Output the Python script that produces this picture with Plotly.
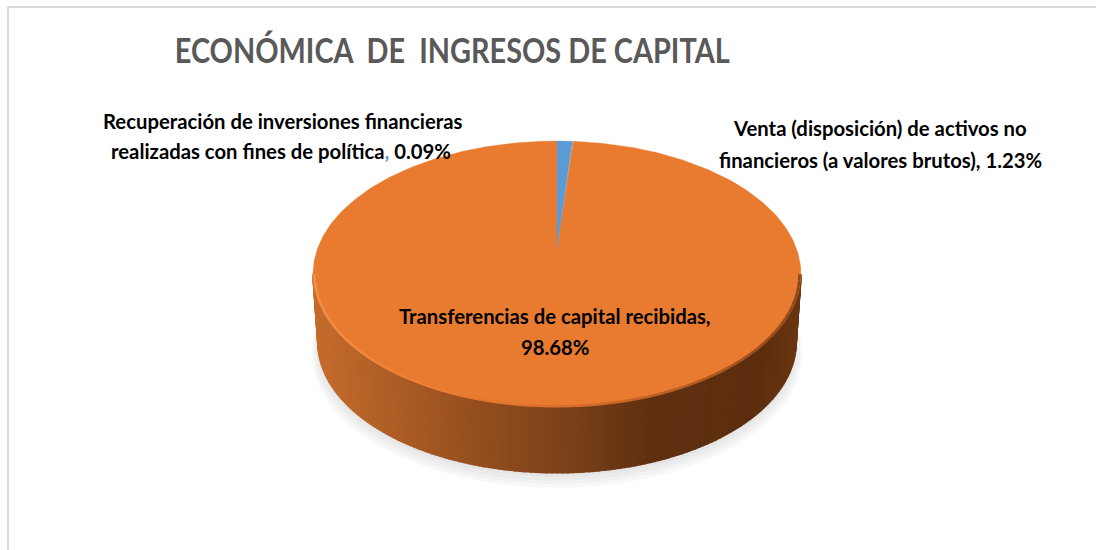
import math
import plotly.graph_objects as go

# ---- data ----
categories = [
    "Venta (disposición) de activos no financieros (a valores brutos)",
    "Recuperación de inversiones financieras realizadas con fines de política",
    "Transferencias de capital recibidas",
]
values = [1.23, 0.09, 98.68]
slice_colors = ["#5B9BD5", "#E97B30", "#E97B30"]
title_text = "ECONÓMICA\u00a0 DE\u00a0 INGRESOS DE CAPITAL"

# ---- projection of the tilted disc onto the page ----
W, H = 1096, 550
AX, AY = 557.0, 248.0      # apex of the slices
A, B, K = 239.3, 127.9, 0.1955
DEPTH, SHRINK = 69.0, 0.98


def project(t, r=1.0, level=0.0, ox=0.0, oy=0.0):
    u, v = r * math.sin(t), r * math.cos(t)
    w = 1 + K * v
    s = SHRINK if level else 1.0
    return AX + ox + s * A * u / w, AY + oy + level * DEPTH - s * B * v / w


def lerp_color(x):
    stops = [(0.0, (196, 107, 44)), (0.31, (151, 80, 31)), (0.52, (123, 65, 25)),
             (0.69, (95, 48, 16)), (0.92, (92, 46, 15)), (1.0, (106, 54, 18))]
    x = min(max(x, 0), 1)
    for (a, ca), (b, cb) in zip(stops, stops[1:]):
        if x <= b:
            f = (x - a) / (b - a)
            return "rgb(%d,%d,%d)" % tuple(round(p + (q - p) * f) for p, q in zip(ca, cb))
    return "rgb(106,54,18)"


def rim_color(t):
    x = project(t)[0]
    f = (x - 313) / 488
    stops = [(0.0, (244, 142, 70)), (0.3, (232, 122, 50)), (0.55, (214, 108, 42)),
             (0.8, (176, 88, 32)), (1.0, (140, 72, 26))]
    for (a, ca), (b, cb) in zip(stops, stops[1:]):
        if f <= b:
            g = (f - a) / (b - a)
            return "rgb(%d,%d,%d)" % tuple(round(p + (q - p) * g) for p, q in zip(ca, cb))
    return "rgb(140,72,26)"


fig = go.Figure()


def poly(xs, ys, color, line=0.0, opacity=1.0):
    fig.add_trace(go.Scatter(
        x=xs, y=ys, mode="lines", fill="toself", fillcolor=color, opacity=opacity,
        line=dict(color=color, width=line), hoverinfo="skip", showlegend=False))


# soft shadow below the disc
full = [2 * math.pi * i / 180 for i in range(181)]
for grow, oy in [(6, 10), (4, 8), (2, 6), (0, 4)]:
    pts = [project(t, 1.0 + grow / 240, 1.0, 0, oy) for t in full]
    poly([p[0] for p in pts], [p[1] for p in pts], "rgb(150,150,150)", opacity=0.07)

# side wall
t0 = math.acos(-K)
t1 = 2 * math.pi - t0
N = 150
for i in range(N):
    a = t0 + (t1 - t0) * i / N
    b = t0 + (t1 - t0) * (i + 1) / N
    p = [project(a), project(b), project(b, level=1.0), project(a, level=1.0)]
    xm = sum(q[0] for q in p) / 4
    poly([q[0] for q in p] + [p[0][0]], [q[1] for q in p] + [p[0][1]],
         lerp_color((xm - 318) / 479), line=1.5)

# top of the disc: wedges from the values
total = sum(values)
start = 0.0
order = [2, 1, 0]
spans = []
for v in values:
    spans.append((start, start + v / total * 2 * math.pi))
    start = spans[-1][1]
for idx in order:
    s, e = spans[idx]
    n = max(3, int((e - s) / 0.02))
    pts = [project(s + (e - s) * j / n) for j in range(n + 1)]
    poly([AX] + [p[0] for p in pts] + [AX], [AY] + [p[1] for p in pts] + [AY],
         slice_colors[idx], line=0.3)

# bevel on the front edge of the disc
M = 60
for i in range(M):
    a = t0 + (t1 - t0) * i / M
    b = t0 + (t1 - t0) * (i + 1) / M
    pa, pb = project(a, 0.994), project(b, 0.994)
    fig.add_trace(go.Scatter(
        x=[pa[0], pb[0]], y=[pa[1] + 0.5, pb[1] + 0.5], mode="lines",
        line=dict(color=rim_color((a + b) / 2), width=2.5), hoverinfo="skip", showlegend=False))

FONT = "Lato"
annotations = [
    dict(text="<b>" + title_text + "</b>", x=452, y=49,
         font=dict(family=FONT, size=35, color="#595959")),
    dict(text="<b>Recuperación de inversiones financieras</b>", x=282, y=121),
    dict(text='<b>realizadas con fines de política<span style="color:#5B9BD5">,</span> 0.09%</b>', x=281, y=151),
    dict(text="<b>Venta (disposición) de activos no</b>", x=880, y=128),
    dict(text="<b>financieros (a valores brutos), 1.23%</b>", x=880, y=160),
    dict(text="<b>Transferencias de capital recibidas,</b>", x=555, y=316),
    dict(text="<b>98.68%</b>", x=555, y=347),
]
for a in annotations:
    a.update(xref="x", yref="y", showarrow=False, xanchor="center", yanchor="middle")
    a.setdefault("font", dict(family=FONT, size=20.3, color="#000000"))

fig.update_layout(
    width=W, height=H, margin=dict(l=0, r=0, t=0, b=0),
    paper_bgcolor="white", plot_bgcolor="white", showlegend=False,
    xaxis=dict(range=[0, W], visible=False, fixedrange=True),
    yaxis=dict(range=[H, 0], visible=False, fixedrange=True),
    annotations=annotations,
    shapes=[
        dict(type="line", xref="x", yref="y", x0=8, x1=W, y0=7, y1=7, line=dict(color="#D9D9D9", width=2)),
        dict(type="line", xref="x", yref="y", x0=8, x1=8, y0=7, y1=H, line=dict(color="#D9D9D9", width=2)),
    ],
)
# the reference title is a narrower face: fit the title text to its width
post = """
document.body.style.margin='0';
document.documentElement.style.overflow='hidden';
var t=document.querySelector('.annotation-text-g text');
if(t){t.setAttribute('textLength','555');t.setAttribute('lengthAdjust','spacingAndGlyphs');}
"""
fig.write_html("out.html", config=dict(displayModeBar=False), post_script=post)
